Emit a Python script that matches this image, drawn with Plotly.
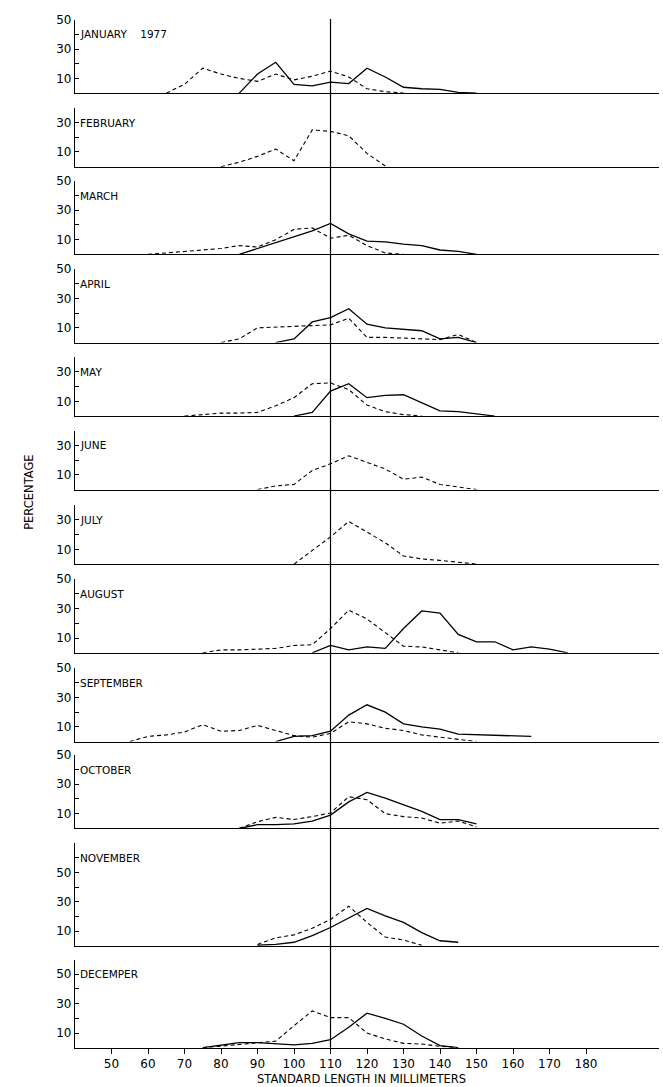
import plotly.graph_objects as go

# ---- length-frequency data (standard length in mm, percentage) ----
jan_dash_mm = [65, 70, 75, 80, 85, 90, 95, 100, 105, 110, 115, 120, 125, 130]
jan_dash_pct = [0, 6, 17, 13, 10, 8, 13, 9, 11.5, 15, 11, 3, 1, 0]
jan_solid_mm = [85, 90, 95, 100, 105, 110, 115, 120, 125, 130, 135, 140, 145, 150]
jan_solid_pct = [0, 13, 21, 6, 5, 7.5, 6.5, 17, 11, 4, 3, 2.5, 0.5, 0]

feb_dash_mm = [80, 85, 90, 95, 100, 105, 110, 115, 120, 125]
feb_dash_pct = [0, 3, 7, 12, 4, 25, 24, 21, 9, 0.5]

mar_dash_mm = [60, 65, 70, 75, 80, 85, 90, 95, 100, 105, 110, 115, 120, 125, 130]
mar_dash_pct = [0, 1, 2, 3, 4, 6, 5, 10, 17, 18, 11, 13, 6, 1, 0]
mar_solid_mm = [85, 90, 95, 100, 105, 110, 115, 120, 125, 130, 135, 140, 145, 150]
mar_solid_pct = [0, 4, 8, 12, 16, 21, 14, 9, 8.5, 7, 6, 3, 2, 0]

apr_dash_mm = [80, 85, 90, 95, 100, 105, 110, 115, 120, 125, 130, 135, 140, 145, 150]
apr_dash_pct = [0, 2.5, 10, 10.5, 10.5, 11, 12, 16.5, 3.5, 3.5, 3, 2.5, 2, 5.5, 0]
apr_solid_mm = [95, 100, 105, 110, 115, 120, 125, 130, 135, 140, 145, 150]
apr_solid_pct = [0, 2.5, 14, 17, 23, 12.5, 10, 9, 8, 2.5, 3.5, 0]

may_dash_mm = [70, 75, 80, 85, 90, 95, 100, 105, 110, 115, 120, 125, 130, 135]
may_dash_pct = [0, 1, 2, 2, 2.5, 7, 12.5, 22, 22.5, 18, 7.5, 3, 1, 0]
may_solid_mm = [100, 105, 110, 115, 120, 125, 130, 135, 140, 145, 150, 155]
may_solid_pct = [0, 2.5, 17, 22, 12.5, 14, 14.5, 9, 3.5, 3, 1.5, 0]

jun_dash_mm = [90, 95, 100, 105, 110, 115, 120, 125, 130, 135, 140, 145, 150]
jun_dash_pct = [0, 2.5, 3.5, 13, 17.5, 23, 18.5, 14, 7, 8.5, 3.5, 2, 0]

jul_dash_mm = [100, 105, 110, 115, 120, 125, 130, 135, 140, 145, 150]
jul_dash_pct = [0, 9.5, 18.5, 29, 22, 14.5, 5.5, 3.5, 2.5, 1.5, 0]

aug_dash_mm = [75, 80, 85, 90, 95, 100, 105, 110, 115, 120, 125, 130, 135, 140, 145]
aug_dash_pct = [0, 2, 2, 2.5, 3, 5, 5.5, 16.5, 29, 23, 13.5, 4.5, 4, 2, 0]
aug_solid_mm = [105, 110, 115, 120, 125, 130, 135, 140, 145, 150, 155, 160, 165, 170, 175]
aug_solid_pct = [0, 5, 2, 4, 3, 16.5, 28.5, 27, 12.5, 7.5, 7.5, 2, 4, 2.5, 0]

sep_dash_mm = [55, 60, 65, 70, 75, 80, 85, 90, 95, 100, 105, 110, 115, 120, 125, 130, 135, 140, 145, 150]
sep_dash_pct = [0, 3.5, 4.5, 6.5, 11.5, 7, 7.5, 11, 7.5, 4, 3, 5.5, 13.5, 12, 9, 7.5, 4.5, 3, 1, 0]
sep_solid_mm = [95, 100, 105, 110, 115, 120, 125, 130, 135, 140, 145, 150, 155, 160, 165]
sep_solid_pct = [0, 3.5, 4, 7, 18, 25, 20, 12, 10, 8.5, 5, 4.5, 4.5, 4, 3.5]

oct_dash_mm = [85, 90, 95, 100, 105, 110, 115, 120, 125, 130, 135, 140, 145, 150]
oct_dash_pct = [0, 4.5, 7.5, 6, 8, 10.5, 21.5, 19.5, 10, 8, 7, 3.5, 5, 1]
oct_solid_mm = [85, 90, 95, 100, 105, 110, 115, 120, 125, 130, 135, 140, 145, 150]
oct_solid_pct = [0, 2.5, 2.5, 3, 5, 9, 18, 24.5, 20.5, 16, 11.5, 6, 6, 3]

nov_dash_mm = [90, 95, 100, 105, 110, 115, 120, 125, 130, 135]
nov_dash_pct = [1, 5.5, 7.5, 12, 18, 27, 16, 6, 4, 0.5]
nov_solid_mm = [90, 95, 100, 105, 110, 115, 120, 125, 130, 135, 140, 145]
nov_solid_pct = [0.5, 1, 2.5, 7, 12.5, 19, 25.5, 20.5, 16, 9, 3.5, 2.5]

dec_dash_mm = [75, 80, 85, 90, 95, 100, 105, 110, 115, 120, 125, 130, 135, 140, 145]
dec_dash_pct = [0, 1, 2, 3, 4.5, 15, 25, 20.5, 20.5, 10, 6, 3, 2.5, 1, 0]
dec_solid_mm = [75, 80, 85, 90, 95, 100, 105, 110, 115, 120, 125, 130, 135, 140, 145]
dec_solid_pct = [0, 1.5, 3.5, 3.5, 3, 2, 3, 5.5, 14, 23.5, 20, 16, 8, 1.5, 0]

month_names = ["JANUARY\u00a0\u00a0\u00a0\u00a01977", "FEBRUARY", "MARCH", "APRIL", "MAY", "JUNE",
               "JULY", "AUGUST", "SEPTEMBER", "OCTOBER", "NOVEMBER", "DECEMPER"]
dashed_series = [(jan_dash_mm, jan_dash_pct), (feb_dash_mm, feb_dash_pct), (mar_dash_mm, mar_dash_pct),
                 (apr_dash_mm, apr_dash_pct), (may_dash_mm, may_dash_pct), (jun_dash_mm, jun_dash_pct),
                 (jul_dash_mm, jul_dash_pct), (aug_dash_mm, aug_dash_pct), (sep_dash_mm, sep_dash_pct),
                 (oct_dash_mm, oct_dash_pct), (nov_dash_mm, nov_dash_pct), (dec_dash_mm, dec_dash_pct)]
solid_series = [(jan_solid_mm, jan_solid_pct), None, (mar_solid_mm, mar_solid_pct),
                (apr_solid_mm, apr_solid_pct), (may_solid_mm, may_solid_pct), None, None,
                (aug_solid_mm, aug_solid_pct), (sep_solid_mm, sep_solid_pct),
                (oct_solid_mm, oct_solid_pct), (nov_solid_mm, nov_solid_pct), (dec_solid_mm, dec_solid_pct)]

# y-axis extent of each panel, and the level where the month name sits
axis_top = [50, 40, 50, 50, 40, 40, 40, 50, 50, 50, 70, 60]
name_level = [40, 30, 40, 40, 30, 30, 30, 40, 40, 40, 60, 50]
labelled_ticks = [10, 30, 50]

x_ticks = [50, 60, 70, 80, 90, 100, 110, 120, 130, 140, 150, 160, 170, 180]
reference_length = 110

# ---- page geometry (pixels) ----
W, H = 663, 1087
PLOT_LEFT, PLOT_RIGHT = 75, 659
baseline_px = [86.7, 160.7, 249, 337.7, 411.7, 485.7, 560.7, 650, 739.3, 826.7, 945, 1047.5]
PX_PER_PCT = 1.48
FONT = "DejaVu Sans"

fig = go.Figure()
layout = {}
annotations = []

for i in range(12):
    n = i + 1
    sfx = "" if n == 1 else str(n)
    xref, yref = "x" + sfx, "y" + sfx
    base = baseline_px[i]
    top = axis_top[i]
    y0 = 1 - base / H
    y1 = 1 - (base - top * PX_PER_PCT) / H
    last = (n == 12)

    xa = dict(domain=[PLOT_LEFT / W, PLOT_RIGHT / W], range=[40, 200], anchor=yref,
              showline=True, linecolor="black", linewidth=1.4, showgrid=False,
              zeroline=False, fixedrange=True)
    if last:
        xa.update(ticks="outside", ticklen=5, tickwidth=1.2, tickcolor="black",
                  tickvals=x_ticks, ticktext=[str(v) for v in x_ticks],
                  tickfont=dict(family=FONT, size=12, color="black"))
    else:
        xa.update(ticks="", showticklabels=False, matches="x12")
    layout["xaxis" + sfx] = xa

    tv = list(range(10, top + 1, 10))
    tt = [str(v) if v in labelled_ticks else "" for v in tv]
    layout["yaxis" + sfx] = dict(domain=[y0, y1], range=[0, top], anchor=xref,
                                 showline=True, linecolor="black", linewidth=1.2,
                                 ticks="inside", ticklen=4, tickwidth=1.1, tickcolor="black",
                                 tickvals=tv, ticktext=tt, showgrid=False, zeroline=False,
                                 tickfont=dict(family=FONT, size=12, color="black"),
                                 fixedrange=True)

    dmm, dpct = dashed_series[i]
    fig.add_trace(go.Scatter(x=dmm, y=dpct, mode="lines", xaxis=xref, yaxis=yref,
                             line=dict(color="black", width=1.1, dash="4px,3px"),
                             showlegend=False, hoverinfo="skip"))
    if solid_series[i] is not None:
        smm, spct = solid_series[i]
        fig.add_trace(go.Scatter(x=smm, y=spct, mode="lines", xaxis=xref, yaxis=yref,
                                 line=dict(color="black", width=1.3),
                                 showlegend=False, hoverinfo="skip"))

    annotations.append(dict(text=month_names[i], xref="paper", yref=yref,
                            x=(PLOT_LEFT + 3) / W, y=name_level[i], xanchor="left",
                            yanchor="middle", showarrow=False,
                            font=dict(family=FONT, size=10.5, color="black")))

annotations.append(dict(text="PERCENTAGE", xref="paper", yref="paper", x=20 / W,
                        y=1 - 488 / H, textangle=-90, showarrow=False,
                        font=dict(family=FONT, size=11.5, color="black")))
annotations.append(dict(text="STANDARD LENGTH IN MILLIMETERS", xref="paper", yref="paper",
                        x=362 / W, y=1 - 1079 / H, showarrow=False, yanchor="middle",
                        font=dict(family=FONT, size=11.5, color="black")))

shapes = [dict(type="line", xref="x12", yref="paper", x0=reference_length, x1=reference_length,
               y0=1 - 1047.5 / H, y1=1 - 12 / H, line=dict(color="black", width=1.2))]

fig.update_layout(width=W, height=H, margin=dict(l=0, r=0, t=0, b=0),
                  paper_bgcolor="white", plot_bgcolor="white",
                  annotations=annotations, shapes=shapes, **layout)

fig.write_html("out.html")
